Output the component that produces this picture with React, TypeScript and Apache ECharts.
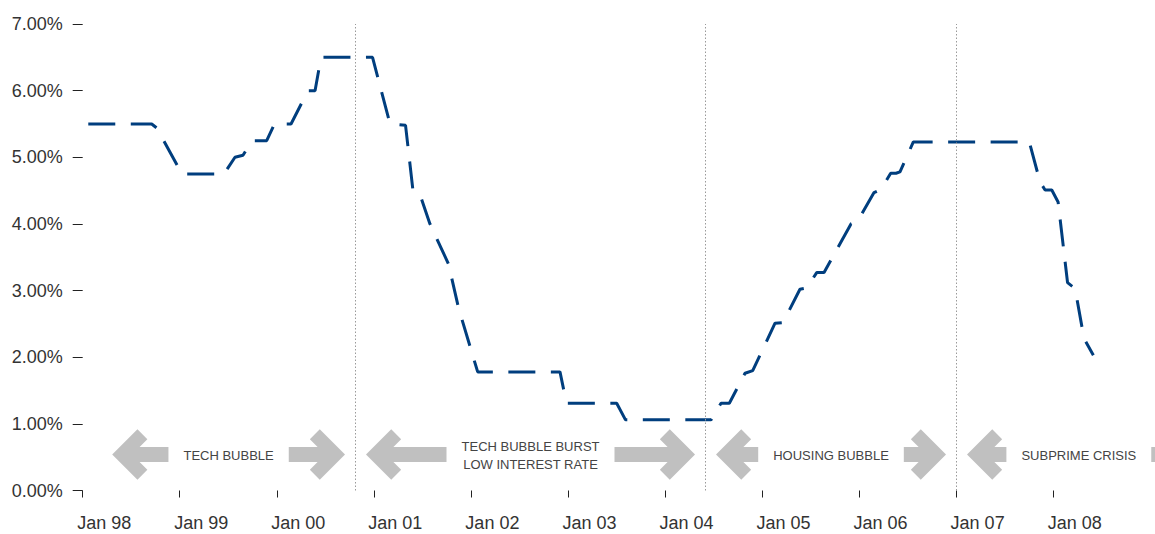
import React, { useEffect, useRef } from 'react';
import * as echarts from 'echarts';

// Vertices of the federal funds rate line: months elapsed since Jan 1998, and the rate in %
const monthsSince98 = [
  0.69, 8.53, 9.15, 12.28, 17.47, 18.83, 19.82, 20.94, 22.75, 23.72,
  25.76, 27.86, 28.73, 29.47, 35.84, 38.0, 39.92, 40.84, 41.71, 42.94,
  45.23, 46.47, 48.84, 59.02, 59.82, 66.03, 67.12, 77.69, 78.93, 79.96,
  81.9, 82.85, 85.61, 86.59, 88.69, 89.56, 90.76, 91.67, 95.0, 95.87,
  97.85, 98.72, 99.91, 100.57, 101.06, 102.71, 117.05, 118.38, 119.0, 119.83,
  120.61, 121.78, 122.71, 123.82, 124.97,
];
const fedFundsRate = [
  5.5, 5.5, 5.44, 4.75, 4.75, 5.0, 5.03, 5.25, 5.25, 5.5,
  5.5, 6.0, 6.0, 6.5, 6.5, 5.5, 5.48, 4.5, 4.44, 4.0,
  3.4, 2.74, 1.78, 1.78, 1.31, 1.31, 1.06, 1.06, 1.31, 1.31,
  1.76, 1.8, 2.51, 2.52, 3.02, 3.04, 3.27, 3.27, 4.0, 4.05,
  4.47, 4.52, 4.76, 4.76, 4.78, 5.23, 5.23, 4.63, 4.51, 4.51,
  4.33, 3.12, 3.03, 2.28, 2.03,
];

// X-axis tick labels, one per January
const yearLabels = ['Jan 98', 'Jan 99', 'Jan 00', 'Jan 01', 'Jan 02', 'Jan 03', 'Jan 04', 'Jan 05', 'Jan 06', 'Jan 07', 'Jan 08'];
const yearTicks = yearLabels.map((_, i) => i * 12);

// Economic eras, bounded in months since Jan 1998
const eraNames = ['TECH BUBBLE', 'TECH BUBBLE BURST\nLOW INTEREST RATE', 'HOUSING BUBBLE', 'SUBPRIME CRISIS'];
const eraBounds = [2.35, 33.733, 77.012, 108.05, 138.3];
const arrowLevel = 0.54; // rate level the era arrows sit on

const FONT = '"Liberation Sans", Arial, Helvetica, sans-serif';
const ARROW = '#c0c0c0';

function measure(text: string, font: string): number {
  const ctx = document.createElement('canvas').getContext('2d');
  if (!ctx) return text.length * 7;
  ctx.font = font;
  return Math.max(...text.split('\n').map((t) => ctx.measureText(t).width));
}

function eraGraphics(chart: echarts.ECharts) {
  const els: any[] = [];
  const armLen = 20.3;
  const thick = 14;
  const tipToVertex = (thick / 2) * Math.SQRT2;
  for (let i = 0; i < eraNames.length; i++) {
    const [xa, cy] = chart.convertToPixel({ gridIndex: 0 }, [eraBounds[i], arrowLevel]) as number[];
    const [xb] = chart.convertToPixel({ gridIndex: 0 }, [eraBounds[i + 1], arrowLevel]) as number[];
    const tipL = xa + 10.5;
    const tipR = xb - 10.5;
    const cx = (tipL + tipR) / 2;
    const tw = measure(eraNames[i], `13px ${FONT}`);
    const vL = tipL + tipToVertex;
    const vR = tipR - tipToVertex;
    const barL = cx - tw / 2 - 15;
    const barR = cx + tw / 2 + 15;
    // left-pointing arrow
    els.push({
      type: 'rect',
      shape: { x: vL, y: cy - 7.5, width: barL - vL, height: 15 },
      style: { fill: ARROW },
      silent: true,
    });
    els.push({
      type: 'polyline',
      shape: { points: [[vL + armLen, cy - armLen], [vL, cy], [vL + armLen, cy + armLen]] },
      style: { stroke: ARROW, lineWidth: thick, lineJoin: 'miter', lineCap: 'butt', fill: null },
      silent: true,
    });
    // right-pointing arrow
    els.push({
      type: 'rect',
      shape: { x: barR, y: cy - 7.5, width: vR - barR, height: 15 },
      style: { fill: ARROW },
      silent: true,
    });
    els.push({
      type: 'polyline',
      shape: { points: [[vR - armLen, cy - armLen], [vR, cy], [vR - armLen, cy + armLen]] },
      style: { stroke: ARROW, lineWidth: thick, lineJoin: 'miter', lineCap: 'butt', fill: null },
      silent: true,
    });
    els.push({
      type: 'text',
      x: cx,
      y: cy + 1,
      silent: true,
      style: {
        text: eraNames[i],
        fill: '#444',
        fontSize: 13,
        fontFamily: FONT,
        align: 'center',
        verticalAlign: 'middle',
        lineHeight: 18.5,
      },
    });
  }
  return els;
}

export default function App() {
  const ref = useRef<HTMLDivElement>(null);

  useEffect(() => {
    if (!ref.current) return;
    const chart = echarts.init(ref.current, undefined, { renderer: 'svg' });
    const linePoints = monthsSince98.map((m, i) => [m, fedFundsRate[i]]);

    chart.setOption({
      animation: false,
      backgroundColor: '#fff',
      grid: { left: 82.7, right: 4.8, top: 24, bottom: 43.5, containLabel: false },
      xAxis: {
        type: 'value',
        min: 0,
        max: 132,
        axisLine: { show: false },
        splitLine: { show: false },
        axisTick: { show: true, length: 7, customValues: yearTicks, lineStyle: { color: '#222', width: 1 } },
        axisLabel: {
          customValues: yearTicks,
          formatter: (v: number) => yearLabels[Math.round(v / 12)] ?? '',
          fontSize: 18,
          fontFamily: FONT,
          color: '#333',
          margin: 23,
          align: 'center',
          padding: [0, 0, 0, 43],
        },
      },
      yAxis: {
        type: 'value',
        min: 0,
        max: 7,
        interval: 1,
        axisLine: { show: false },
        splitLine: { show: false },
        axisTick: { show: true, length: 10, lineStyle: { color: '#222', width: 1 } },
        axisLabel: {
          formatter: (v: number) => v.toFixed(2) + '%',
          fontSize: 18,
          fontFamily: FONT,
          color: '#333',
          margin: 20,
        },
      },
      series: [
        {
          type: 'line',
          data: linePoints,
          showSymbol: false,
          symbol: 'none',
          lineStyle: { color: '#003e7e', width: 3, type: [27, 15.5], cap: 'butt' },
          markLine: {
            silent: true,
            symbol: 'none',
            label: { show: false },
            lineStyle: { color: '#9a9a9a', width: 1, type: [1.5, 2] },
            data: eraBounds.slice(1, 4).map((m) => ({ xAxis: m })),
          },
        },
      ],
    });

    chart.setOption({ graphic: eraGraphics(chart) });

    return () => chart.dispose();
  }, []);

  return (
    <div
      ref={ref}
      style={{ position: 'absolute', left: 0, top: 0, width: 1155, height: 534, background: '#fff' }}
    />
  );
}
